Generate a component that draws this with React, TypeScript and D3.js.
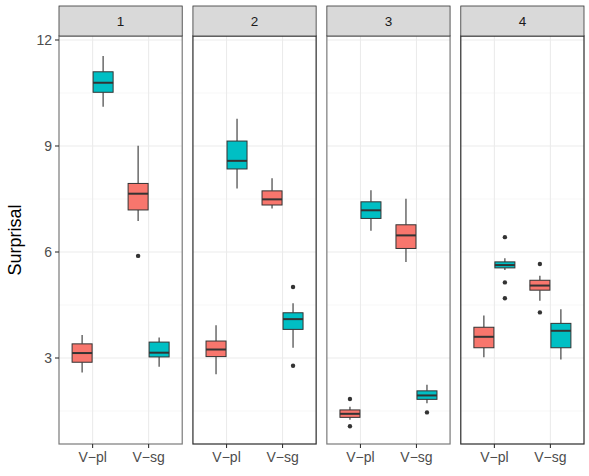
import React from "react";
import * as d3 from "d3";

// facet labels, verb categories and the two subject groups (fill)
const facets = ["1", "2", "3", "4"];
const verbs = ["V−pl", "V−sg"];
const subjects = ["pl", "sg"];
const subjectColors = ["#F8766D", "#00BFC4"];
const yTicks = [3, 6, 9, 12];
const yMinor = [1.5, 4.5, 7.5, 10.5];

// each row: verb, subject, [whisker low, q1, median, q3, whisker high], outliers
type BoxRow = [string, string, number[], number[]];

const facet1: BoxRow[] = [
  ["V−pl", "pl", [2.59, 2.88, 3.14, 3.4, 3.65], []],
  ["V−pl", "sg", [10.11, 10.52, 10.79, 11.1, 11.55], []],
  ["V−sg", "pl", [6.88, 7.19, 7.65, 7.94, 9.01], [5.89]],
  ["V−sg", "sg", [2.75, 3.03, 3.15, 3.45, 3.58], []],
];

const facet2: BoxRow[] = [
  ["V−pl", "pl", [2.54, 3.04, 3.24, 3.48, 3.93], []],
  ["V−pl", "sg", [7.8, 8.35, 8.58, 9.14, 9.77], []],
  ["V−sg", "pl", [7.23, 7.33, 7.49, 7.73, 8.09], []],
  ["V−sg", "sg", [3.29, 3.81, 4.1, 4.28, 4.55], [5.01, 2.78]],
];

const facet3: BoxRow[] = [
  ["V−pl", "pl", [1.25, 1.32, 1.42, 1.53, 1.62], [1.84, 1.07]],
  ["V−pl", "sg", [6.6, 6.95, 7.18, 7.42, 7.75], []],
  ["V−sg", "pl", [5.72, 6.1, 6.47, 6.77, 7.51], []],
  ["V−sg", "sg", [1.72, 1.83, 1.94, 2.07, 2.24], [1.46]],
];

const facet4: BoxRow[] = [
  ["V−pl", "pl", [3.02, 3.29, 3.6, 3.87, 4.2], []],
  ["V−pl", "sg", [5.49, 5.55, 5.63, 5.72, 5.82], [6.42, 5.14, 4.69]],
  ["V−sg", "pl", [4.62, 4.92, 5.05, 5.2, 5.33], [5.66, 4.29]],
  ["V−sg", "sg", [2.96, 3.29, 3.77, 3.98, 4.38], []],
];

const facetRows = [facet1, facet2, facet3, facet4];

const W = 589;
const H = 476;
const FONT = "'Liberation Sans', Arial, Helvetica, sans-serif";

export default function App() {
  const left = 59;
  const right = 584;
  const panelTop = 36;
  const panelBottom = 444;
  const stripTop = 6;

  const panelX = d3.scaleBand().domain(facets).range([left, right]).paddingInner(0.08).paddingOuter(0);
  const pw = panelX.bandwidth();

  const y = d3.scaleLinear().domain([0.566, 12.113]).range([panelBottom, panelTop]);

  // discrete x inside a panel: 0.6 expansion on both sides
  const x = d3.scaleLinear().domain([0.4, 2.6]).range([0, pw]);
  const dodge = d3.scaleBand().domain(subjects).range([-0.375, 0.375]);
  const boxW = x(1 + dodge.bandwidth()) - x(1) - 1;

  return (
    <svg
      width={W}
      height={H}
      style={{ position: "absolute", left: 0, top: 0, background: "#fff" }}
      fontFamily={FONT}
    >
      <rect width={W} height={H} fill="#fff" />

      {facets.map((f, fi) => {
        const px = panelX(f) as number;
        const rows = facetRows[fi];
        const borderTone = fi % 2 === 0 ? "#7a7a7a" : "#2b2b2b";
        return (
          <g key={f} transform={`translate(${px},0)`}>
            {/* grid */}
            {yMinor.map((t) => (
              <line key={"m" + t} x1={0} x2={pw} y1={y(t)} y2={y(t)} stroke="#F2F2F2" strokeWidth={0.6} />
            ))}
            {yTicks.map((t) => (
              <line key={"g" + t} x1={0} x2={pw} y1={y(t)} y2={y(t)} stroke="#EBEBEB" strokeWidth={1.1} />
            ))}
            {verbs.map((v, vi) => (
              <line key={v} x1={x(vi + 1)} x2={x(vi + 1)} y1={panelTop} y2={panelBottom} stroke="#EBEBEB" strokeWidth={1.1} />
            ))}

            {/* boxes */}
            {rows.map(([verb, subj, s, outs]) => {
              const cx = x(verbs.indexOf(verb) + 1 + (dodge(subj) as number) + dodge.bandwidth() / 2);
              const fill = subjectColors[subjects.indexOf(subj)];
              const [lo, q1, med, q3, hi] = s;
              return (
                <g key={verb + subj}>
                  <line x1={cx} x2={cx} y1={y(hi)} y2={y(q3)} stroke="#333" strokeWidth={1.1} />
                  <line x1={cx} x2={cx} y1={y(q1)} y2={y(lo)} stroke="#333" strokeWidth={1.1} />
                  <rect
                    x={cx - boxW / 2}
                    y={y(q3)}
                    width={boxW}
                    height={y(q1) - y(q3)}
                    fill={fill}
                    stroke="#333"
                    strokeWidth={1}
                  />
                  <line x1={cx - boxW / 2} x2={cx + boxW / 2} y1={y(med)} y2={y(med)} stroke="#333" strokeWidth={2} />
                  {outs.map((o, oi) => (
                    <circle key={oi} cx={cx} cy={y(o)} r={2.2} fill="#333" />
                  ))}
                </g>
              );
            })}

            {/* panel border */}
            <rect x={0} y={panelTop} width={pw} height={panelBottom - panelTop} fill="none" stroke={borderTone} strokeWidth={1.2} />

            {/* strip */}
            <rect x={0} y={stripTop} width={pw} height={panelTop - stripTop} fill="#D9D9D9" stroke="#333" strokeWidth={0.8} />
            <text x={pw / 2} y={(stripTop + panelTop) / 2} dy="0.35em" textAnchor="middle" fontSize={13.5} fill="#1A1A1A">
              {f}
            </text>

            {/* x axis */}
            {verbs.map((v, vi) => (
              <g key={"xt" + v} transform={`translate(${x(vi + 1)},${panelBottom})`}>
                <line y1={0} y2={4} stroke="#333" strokeWidth={1.1} />
                <text y={18} textAnchor="middle" fontSize={14} fill="#4D4D4D">
                  {v}
                </text>
              </g>
            ))}
          </g>
        );
      })}

      {/* y axis */}
      {yTicks.map((t) => (
        <g key={"yt" + t} transform={`translate(${left},${y(t)})`}>
          <line x1={-4} x2={0} stroke="#333" strokeWidth={1.1} />
          <text x={-7} dy="0.35em" textAnchor="end" fontSize={14} fill="#4D4D4D">
            {t}
          </text>
        </g>
      ))}
      <text
        transform={`translate(21,${(panelTop + panelBottom) / 2}) rotate(-90)`}
        textAnchor="middle"
        fontSize={18}
        fill="#000"
      >
        Surprisal
      </text>
    </svg>
  );
}
